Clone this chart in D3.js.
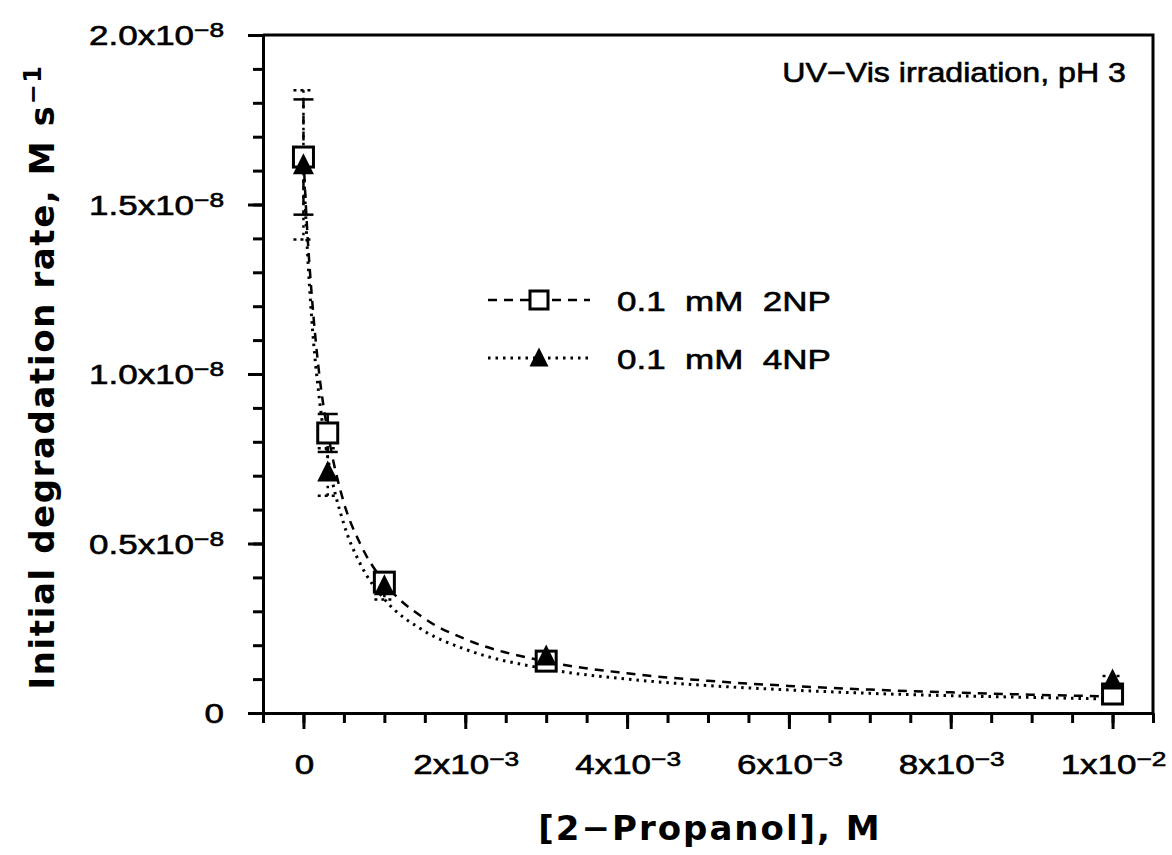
<!DOCTYPE html>
<html>
<head>
<meta charset="utf-8">
<script src="https://cdn.jsdelivr.net/npm/d3@7"></script>
<style>
  body { margin: 0; background: #fff; }
  svg { display: block; font-family: "DejaVu Sans", sans-serif; }
  .lab { font-family: "Liberation Sans", Arial, sans-serif; }
</style>
</head>
<body>
<svg width="1172" height="855"></svg>
<script>
// rates are in units of 1e-8 M/s, concentrations in M
let conc = [0, 3e-4, 1e-3, 3e-3, 1e-2];
let rate2NP = [1.64, 0.826, 0.386, 0.153, 0.056];
let err2NP = [0.17, 0.056, 0.02, 0.01, 0.01];
let rate4NP = [1.617, 0.711, 0.375, 0.168, 0.097];
let err4NP = [0.22, 0.07, 0.04, 0.012, 0.012];

// fitted curves
let curveX = [0, 0.05e-3, 0.1e-3, 0.2e-3, 0.3e-3, 0.5e-3, 0.7e-3, 1e-3, 1.5e-3, 2e-3, 3e-3, 4e-3, 5e-3, 6e-3, 7e-3, 8e-3, 9e-3, 1e-2];
let fit2NP = [1.64, 1.41, 1.24, 0.99, 0.83, 0.62, 0.50, 0.385, 0.278, 0.218, 0.152, 0.117, 0.095, 0.080, 0.069, 0.061, 0.054, 0.049];
let fit4NP = [1.62, 1.36, 1.17, 0.92, 0.755, 0.557, 0.441, 0.336, 0.241, 0.188, 0.130, 0.100, 0.081, 0.068, 0.058, 0.051, 0.046, 0.041];

let xMajor = [0, 2e-3, 4e-3, 6e-3, 8e-3, 1e-2];
let xLabels = ["0", "2x10^−3", "4x10^−3", "6x10^−3", "8x10^−3", "1x10^−2"];
let yMajor = [0, 0.5, 1, 1.5, 2];
let yLabels = ["0", "0.5x10^−8", "1.0x10^−8", "1.5x10^−8", "2.0x10^−8"];

let legendNames = ["0.1  mM  2NP", "0.1  mM  4NP"];

let plotL = 263, plotR = 1153, plotT = 35, plotB = 713;

let svg = d3.select("svg");

let xScale = d3.scaleLinear().domain([-0.5e-3, 10.5e-3]).range([plotL, plotR]);
let yScale = d3.scaleLinear().domain([0, 2]).range([plotB, plotT]);

let xMinor = d3.range(-1, 22).map(i => i * 0.5e-3);
let yMinor = d3.range(0, 21).map(i => i * 0.1);

let styleAxis = g => {
    g.selectAll("path, line").attr("stroke", "#000").attr("stroke-width", 3);
};

// minor + major ticks
svg.append("g")
    .attr("transform", "translate(0," + plotB + ")")
    .call(d3.axisBottom(xScale).tickValues(xMinor).tickSize(10).tickSizeOuter(0).tickFormat(""))
    .call(styleAxis);
svg.append("g")
    .attr("transform", "translate(0," + plotB + ")")
    .call(d3.axisBottom(xScale).tickValues(xMajor).tickSize(16).tickSizeOuter(0).tickFormat(""))
    .call(styleAxis);

svg.append("g")
    .attr("transform", "translate(" + plotL + ",0)")
    .call(d3.axisLeft(yScale).tickValues(yMinor).tickSize(10).tickSizeOuter(0).tickFormat(""))
    .call(styleAxis);
svg.append("g")
    .attr("transform", "translate(" + plotL + ",0)")
    .call(d3.axisLeft(yScale).tickValues(yMajor).tickSize(15).tickSizeOuter(0).tickFormat(""))
    .call(styleAxis);

// frame top and right
svg.append("path")
    .attr("d", "M" + plotL + "," + plotT + "H" + plotR + "V" + plotB)
    .attr("fill", "none").attr("stroke", "#000").attr("stroke-width", 3);

// wide text, like the original's font
let wideText = (x, y, sx, anchor) => svg.append("text")
    .attr("class", "lab")
    .attr("transform", "translate(" + x + "," + y + ") scale(" + sx + ",1)")
    .attr("text-anchor", anchor)
    .attr("font-size", 28)
    .attr("stroke", "#000")
    .attr("stroke-width", 0.6);

let writeLabel = (sel, str) => {
    let parts = str.split("^");
    sel.append("tspan").text(parts[0]);
    if (parts[1]) {
        sel.append("tspan").attr("dy", -8).attr("font-size", 21).text(parts[1]);
    }
};

xMajor.forEach((v, i) => {
    writeLabel(wideText(xScale(v) + 1, 774, 1.25, "middle"), xLabels[i]);
});

yMajor.forEach((v, i) => {
    writeLabel(wideText(224, yScale(v) + 10, 1.25, "end"), yLabels[i]);
});

// axis titles
svg.append("text")
    .attr("x", 710).attr("y", 840)
    .attr("text-anchor", "middle")
    .attr("font-size", 34).attr("font-weight", "bold")
    .attr("letter-spacing", 2)
    .text("[2−Propanol], M");

let yt = svg.append("text")
    .attr("transform", "translate(54,377) rotate(-90)")
    .attr("text-anchor", "middle")
    .attr("font-size", 34).attr("font-weight", "bold")
    .attr("letter-spacing", 1.6);
yt.append("tspan").text("Initial degradation rate, M s");
yt.append("tspan").attr("dy", -13).attr("font-size", 24).text("−1");

wideText(1126, 82, 1.15, "end").text("UV−Vis irradiation, pH 3");

// curves
let line = d3.line().x(d => xScale(d[0])).y(d => yScale(d[1])).curve(d3.curveMonotoneX);

svg.append("path")
    .datum(curveX.map((x, i) => [x, fit2NP[i]]))
    .attr("d", line)
    .attr("fill", "none").attr("stroke", "#000").attr("stroke-width", 2.5)
    .attr("stroke-dasharray", "9,7");

svg.append("path")
    .datum(curveX.map((x, i) => [x, fit4NP[i]]))
    .attr("d", line)
    .attr("fill", "none").attr("stroke", "#000").attr("stroke-width", 3)
    .attr("stroke-dasharray", "2.5,5");

// error bars
let drawErr = (rates, errs, dash, capDash) => {
    let g = svg.append("g").attr("stroke", "#000").attr("stroke-width", 2.5);
    conc.forEach((c, i) => {
        let cx = xScale(c);
        let y1 = yScale(rates[i] + errs[i]);
        let y2 = yScale(rates[i] - errs[i]);
        g.append("line").attr("x1", cx).attr("x2", cx).attr("y1", y1).attr("y2", y2)
            .attr("stroke-dasharray", dash);
        [y1, y2].forEach(yy => {
            g.append("line").attr("x1", cx - 10).attr("x2", cx + 10).attr("y1", yy).attr("y2", yy)
                .attr("stroke-dasharray", capDash);
        });
    });
};
drawErr(rate4NP, err4NP, "2.5,5", "3,4");
drawErr(rate2NP, err2NP, "9,7", null);

// markers
let square = (g, cx, cy, s) => g.append("rect")
    .attr("x", cx - s / 2).attr("y", cy - s / 2).attr("width", s).attr("height", s)
    .attr("fill", "#fff").attr("stroke", "#000").attr("stroke-width", 3);
let triangle = (g, cx, cy, s) => g.append("path")
    .attr("d", "M" + cx + "," + (cy - s * 0.55) + "L" + (cx + s / 2) + "," + (cy + s * 0.45) + "L" + (cx - s / 2) + "," + (cy + s * 0.45) + "Z")
    .attr("fill", "#000");

let marks = svg.append("g");
conc.forEach((c, i) => square(marks, xScale(c), yScale(rate2NP[i]), 20));
conc.forEach((c, i) => triangle(marks, xScale(c), yScale(rate4NP[i]), 21));

// legend
let legend = svg.append("g");
let rows = [300, 358];
legend.append("line").attr("x1", 488).attr("x2", 590).attr("y1", rows[0]).attr("y2", rows[0])
    .attr("stroke", "#000").attr("stroke-width", 2.5).attr("stroke-dasharray", "9,7");
square(legend, 539, rows[0], 18);
legend.append("line").attr("x1", 488).attr("x2", 590).attr("y1", rows[1]).attr("y2", rows[1])
    .attr("stroke", "#000").attr("stroke-width", 3).attr("stroke-dasharray", "2.5,5");
triangle(legend, 539, rows[1], 19);

legendNames.forEach((n, i) => {
    wideText(617, rows[i] + 11, 1.25, "start")
        .style("white-space", "pre")
        .text(n);
});
</script>
</body>
</html>
